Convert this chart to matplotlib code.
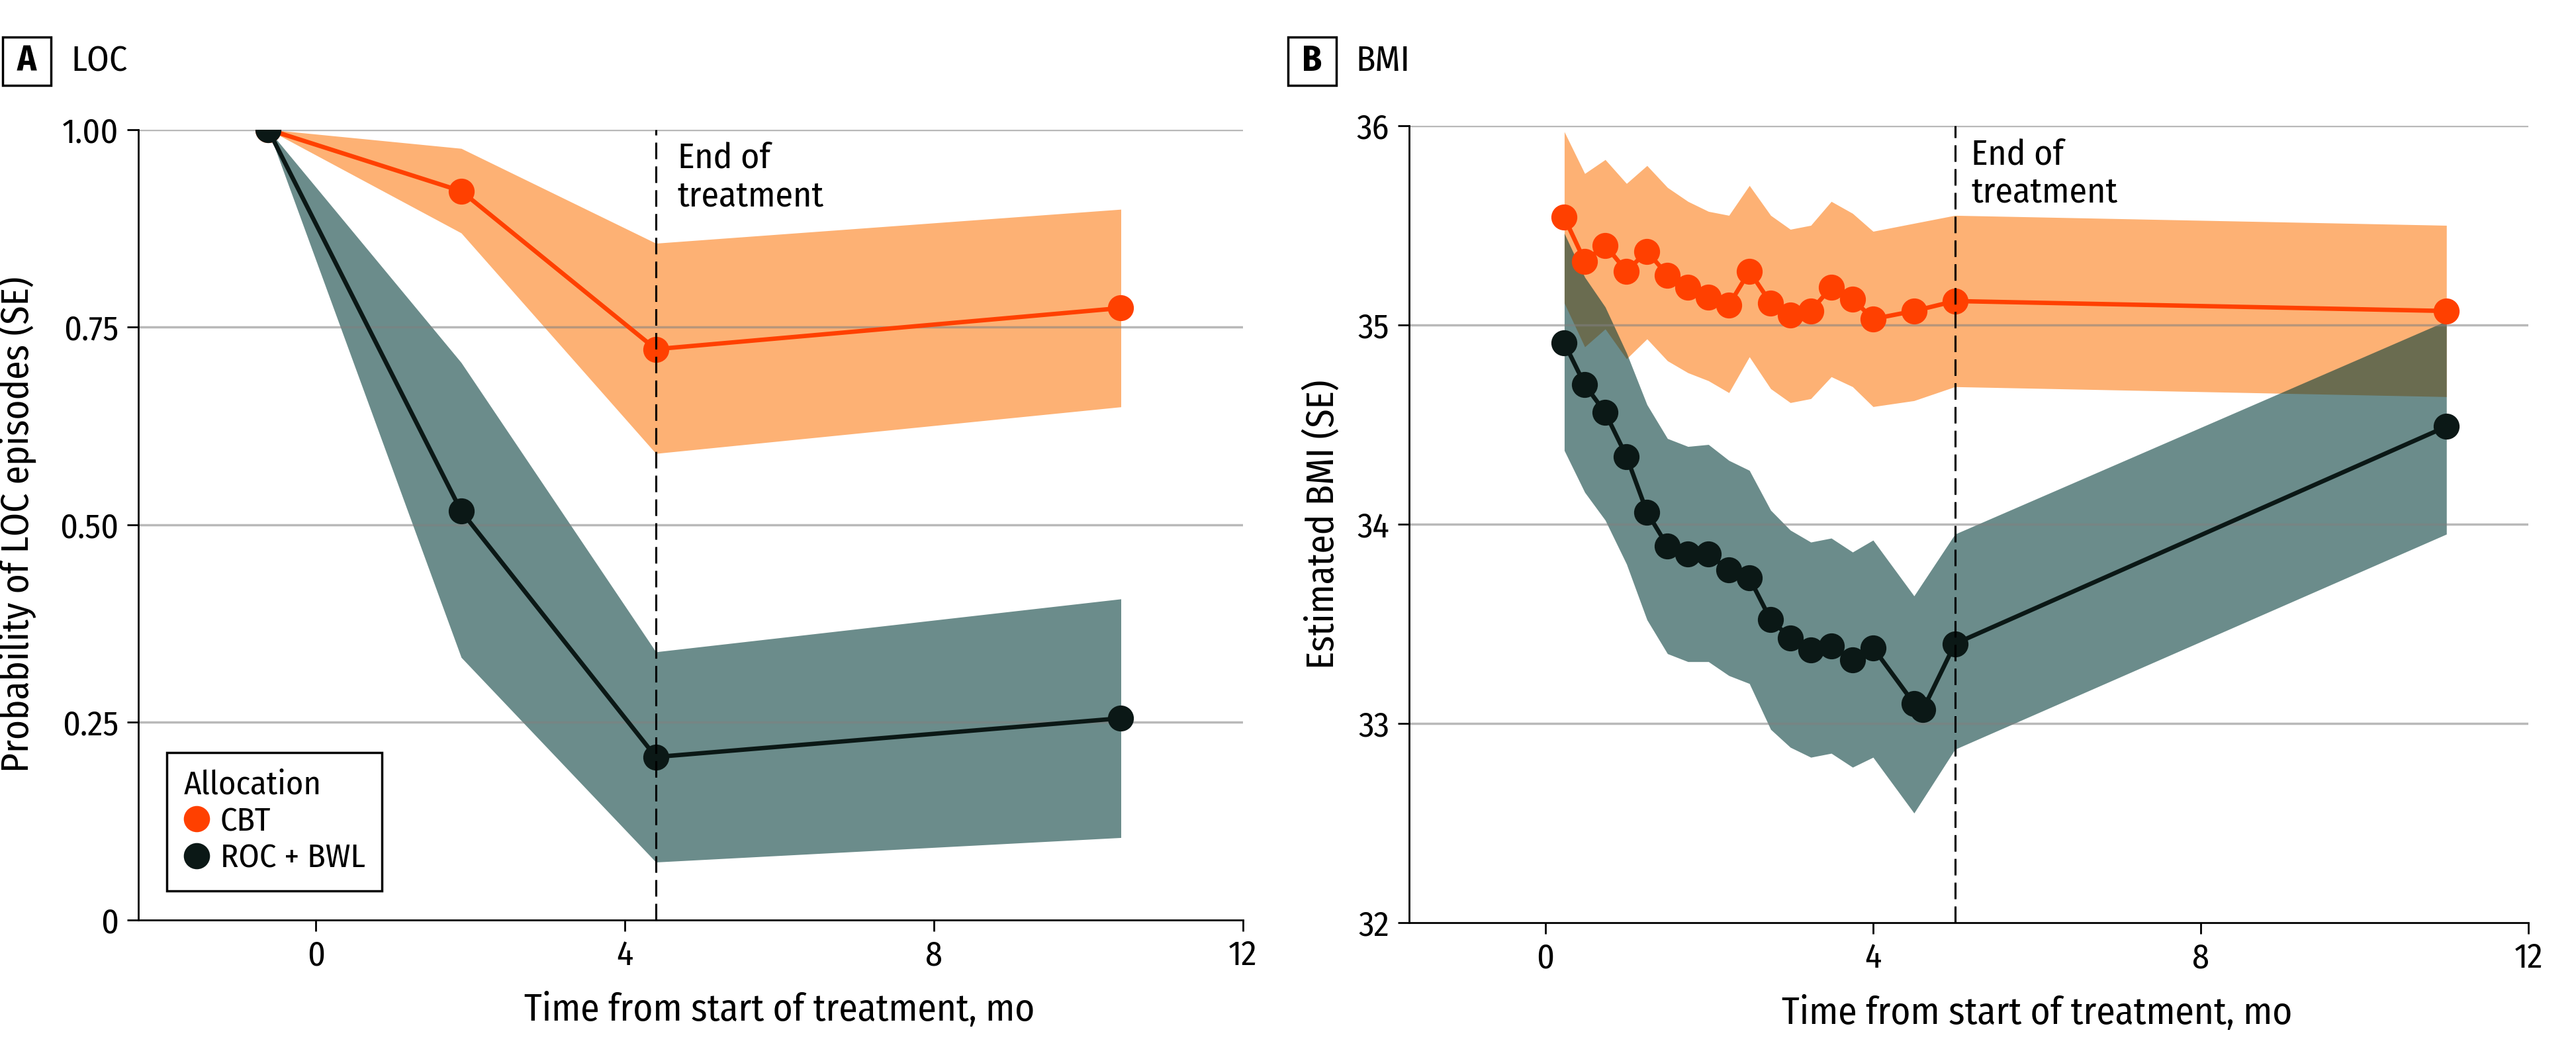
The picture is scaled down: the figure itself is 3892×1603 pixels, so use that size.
import matplotlib
matplotlib.use('Agg')
import matplotlib.pyplot as plt
from matplotlib.lines import Line2D
from matplotlib.patches import Rectangle
from matplotlib.transforms import blended_transform_factory

plt.rcParams['font.family'] = ['Fira Sans Condensed', 'DejaVu Sans']

# Panel A: loss-of-control eating probability
loc_x = [-0.62, 1.88, 4.4, 10.42]
loc_cbt = [1.0, 0.922, 0.722, 0.774]
loc_cbt_lo = [1.0, 0.869, 0.590, 0.649]
loc_cbt_hi = [1.0, 0.976, 0.856, 0.899]
loc_roc = [1.0, 0.517, 0.206, 0.255]
loc_roc_lo = [1.0, 0.332, 0.073, 0.104]
loc_roc_hi = [1.0, 0.705, 0.339, 0.406]
loc_yticks = [0, 0.25, 0.50, 0.75, 1.00]
loc_yticklabels = ['0', '0.25', '0.50', '0.75', '1.00']

# Panel B: BMI
bmi_x = [0.23, 0.48, 0.73, 0.99, 1.24, 1.49, 1.74, 1.99, 2.24, 2.49,
         2.75, 2.99, 3.24, 3.49, 3.75, 4.0, 4.5, 5.0, 11.0]
bmi_cbt = [35.54, 35.32, 35.40, 35.27, 35.37, 35.25, 35.19, 35.14, 35.10, 35.27,
           35.11, 35.05, 35.07, 35.19, 35.13, 35.03, 35.07, 35.12, 35.07]
bmi_cbt_hi = [35.97, 35.76, 35.83, 35.71, 35.80, 35.69, 35.62, 35.57, 35.55, 35.70,
              35.55, 35.48, 35.50, 35.62, 35.56, 35.47, 35.51, 35.55, 35.50]
bmi_cbt_lo = [35.11, 34.89, 34.98, 34.83, 34.93, 34.82, 34.76, 34.72, 34.66, 34.84,
              34.68, 34.61, 34.63, 34.74, 34.69, 34.59, 34.62, 34.69, 34.64]
bmi_roc_x = [0.23, 0.48, 0.73, 0.99, 1.24, 1.49, 1.74, 1.99, 2.24, 2.49,
             2.75, 2.99, 3.24, 3.49, 3.75, 4.0, 4.5, 4.61, 5.0, 11.0]
bmi_roc = [34.91, 34.70, 34.56, 34.34, 34.06, 33.89, 33.85, 33.85, 33.77, 33.73,
           33.52, 33.43, 33.37, 33.39, 33.32, 33.38, 33.10, 33.07, 33.40, 34.49]
bmi_roc_hi = [35.46, 35.24, 35.09, 34.86, 34.60, 34.43, 34.39, 34.40, 34.32, 34.27,
              34.07, 33.97, 33.91, 33.93, 33.86, 33.92, 33.64, 33.95, 35.02]
bmi_roc_lo = [34.37, 34.16, 34.02, 33.80, 33.52, 33.35, 33.31, 33.31, 33.24, 33.20,
              32.97, 32.88, 32.83, 32.85, 32.78, 32.83, 32.55, 32.87, 33.95]
bmi_yticks = [32, 33, 34, 35, 36]
xticks = [0, 4, 8, 12]

orange = '#FF4000'
orange_band = '#FDB174'
dark = '#0B1816'
teal = '#003A37'

fig = plt.figure(figsize=(15.568, 6.412), dpi=250)
axA = fig.add_axes([0.0537, 0.1331, 0.4288, 0.7449])
axB = fig.add_axes([0.5469, 0.1304, 0.4346, 0.7511])


def draw_panel(ax, x_cbt, cbt, cbt_lo, cbt_hi, x_roc, roc, x_band, roc_lo, roc_hi,
               yticks, xlim, ylim, eot):
    ax.fill_between(x_cbt, cbt_lo, cbt_hi, color=orange_band, lw=0, zorder=1)
    ax.fill_between(x_band, roc_lo, roc_hi, color=teal, alpha=0.58, lw=0, zorder=1.5)
    for y in yticks[1:]:
        ax.axhline(y, color='#808080', alpha=0.55, lw=1.0, zorder=2)
    ax.plot(x_cbt, cbt, color=orange, lw=1.9, marker='o', ms=10.3, zorder=3)
    ax.plot(x_roc, roc, color=dark, lw=1.9, marker='o', ms=10.3, zorder=4)
    ax.axvline(eot, color='black', lw=0.9, dashes=(8, 3.5), zorder=5)
    ax.set_xlim(*xlim)
    ax.set_ylim(*ylim)
    ax.set_xticks(xticks)
    ax.set_yticks(yticks)
    for s in ['top', 'right']:
        ax.spines[s].set_visible(False)
    for s in ['left', 'bottom']:
        ax.spines[s].set_linewidth(0.8)
    ax.tick_params(direction='out', length=5, width=0.8, labelsize=15, pad=3.5)
    ax.set_xlabel('Time from start of treatment, mo', fontsize=16.5)
    tr = blended_transform_factory(ax.transData, ax.transAxes)
    ax.xaxis.set_label_coords(6, -0.092, transform=tr)


draw_panel(axA, loc_x, loc_cbt, loc_cbt_lo, loc_cbt_hi, loc_x, loc_roc, loc_x,
           loc_roc_lo, loc_roc_hi, loc_yticks, (-2.3, 12), (0, 1), 4.4)
axA.set_yticklabels(loc_yticklabels)
axA.set_ylabel('Probability of LOC episodes (SE)', fontsize=16.5)
axA.yaxis.set_label_coords(-0.092, 0.5)
axA.text(4.68, 0.985, 'End of\ntreatment', fontsize=15.5, va='top', ha='left',
         linespacing=1.15)

draw_panel(axB, bmi_x, bmi_cbt, bmi_cbt_lo, bmi_cbt_hi, bmi_roc_x, bmi_roc, bmi_x,
           bmi_roc_lo, bmi_roc_hi, bmi_yticks, (-1.668, 12), (32, 36), 5.0)
axB.set_ylabel('Estimated BMI (SE)', fontsize=16.5)
axB.yaxis.set_label_coords(-0.060, 0.5)
axB.text(5.2, 35.94, 'End of\ntreatment', fontsize=15.5, va='top', ha='left',
         linespacing=1.15)

# legend
handles = [Line2D([], [], ls='none', marker='o', ms=10.4, color=orange),
           Line2D([], [], ls='none', marker='o', ms=10.4, color=dark)]
leg = axA.legend(handles, ['CBT', 'ROC + BWL'], title='Allocation', loc='lower left',
                 bbox_to_anchor=(0.0258, 0.0365), borderaxespad=0, fontsize=14.5,
                 title_fontsize=14.5, frameon=True, fancybox=False, framealpha=1,
                 edgecolor='black', handlelength=0.8, handletextpad=0.3,
                 labelspacing=0.15, borderpad=0.5, alignment='left')
leg.get_frame().set_linewidth(1.0)

# panel letters
W, H = 3892, 1603
for left, letter, title_x, title in [(3.6, 'A', 107, 'LOC'), (1946, 'B', 2048, 'BMI')]:
    fig.patches.append(Rectangle((left / W, 1 - 129 / H), 73 / W, 73 / H,
                                 transform=fig.transFigure, fill=False,
                                 edgecolor='black', lw=1.0))
    fig.text((left + 36.5) / W, 1 - 92.5 / H, letter, fontsize=15.5, fontweight='bold',
             ha='center', va='center')
    fig.text(title_x / W, 1 - 92.5 / H, title, fontsize=15.5, ha='left', va='center')

fig.savefig('out.png', dpi=250)
